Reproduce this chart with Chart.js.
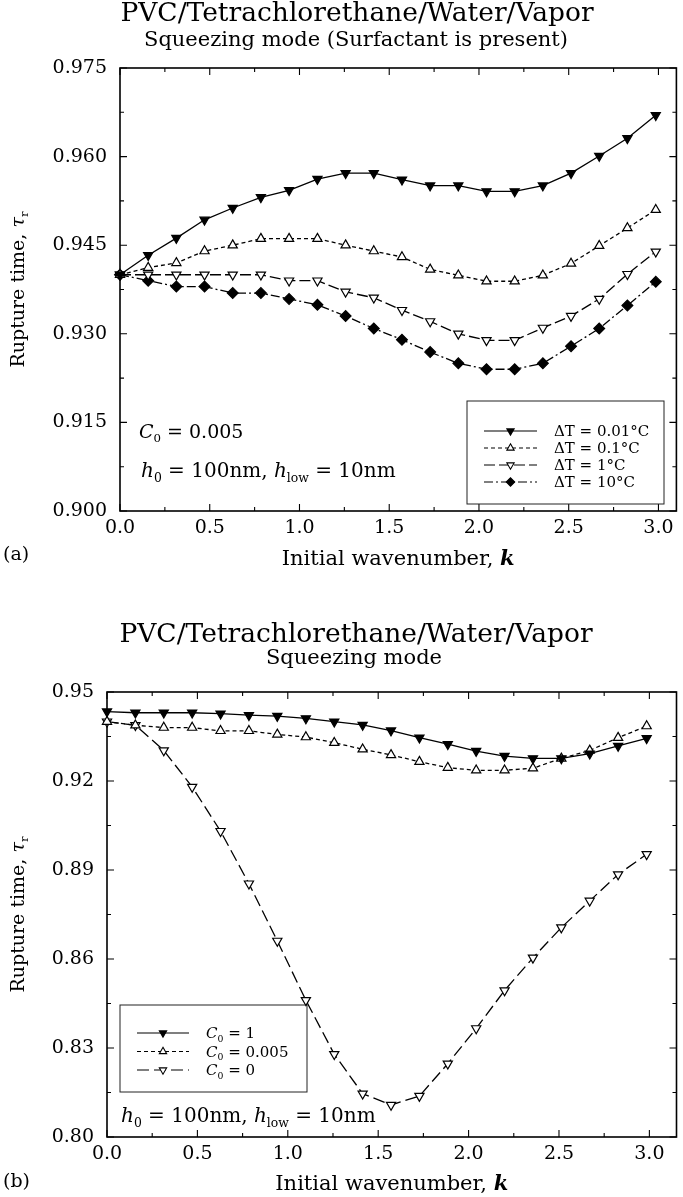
<!DOCTYPE html>
<html><head><meta charset="utf-8">
<script src="https://cdn.jsdelivr.net/npm/chart.js@4.4.1/dist/chart.umd.min.js"></script>
<style>
html,body{margin:0;padding:0;background:#fff;}
#wrapA{position:absolute;left:0;top:0;width:683px;height:600px;}
#wrapB{position:absolute;left:0;top:600px;width:683px;height:597px;}
</style></head><body>
<div id="wrapA"><canvas id="cA" width="683" height="600"></canvas></div>
<div id="wrapB"><canvas id="cB" width="683" height="597"></canvas></div>
<script>
// ---------- data ----------
const kValues = [0.000,0.157,0.314,0.471,0.628,0.785,0.942,1.100,1.257,1.414,1.571,1.728,1.885,2.042,2.199,2.356,2.513,2.670,2.827,2.985];

const tauA_dT001 = [0.9400,0.9433,0.9462,0.9493,0.9513,0.9531,0.9543,0.9562,0.9572,0.9572,0.9561,0.9551,0.9551,0.9541,0.9541,0.9551,0.9572,0.9601,0.9631,0.9670];
const tauA_dT01  = [0.9400,0.9412,0.9420,0.9440,0.9450,0.9461,0.9461,0.9461,0.9450,0.9440,0.9430,0.9409,0.9399,0.9389,0.9389,0.9399,0.9419,0.9449,0.9479,0.9510];
const tauA_dT1   = [0.9400,0.9400,0.9400,0.9400,0.9400,0.9400,0.9390,0.9390,0.9371,0.9361,0.9340,0.9321,0.9300,0.9289,0.9289,0.9310,0.9330,0.9359,0.9401,0.9439];
const tauA_dT10  = [0.9400,0.9390,0.9380,0.9380,0.9369,0.9369,0.9359,0.9349,0.9330,0.9309,0.9290,0.9269,0.9250,0.9240,0.9240,0.9250,0.9279,0.9309,0.9348,0.9388];

const tauB_C1    = [0.9434,0.9430,0.9430,0.9430,0.9427,0.9422,0.9419,0.9411,0.9400,0.9389,0.9370,0.9346,0.9324,0.9301,0.9284,0.9276,0.9276,0.9292,0.9318,0.9344];
const tauB_C0005 = [0.9400,0.9388,0.9380,0.9380,0.9369,0.9369,0.9357,0.9348,0.9329,0.9307,0.9288,0.9265,0.9245,0.9236,0.9236,0.9243,0.9276,0.9303,0.9346,0.9385];
const tauB_C0    = [0.9400,0.9388,0.9303,0.9180,0.9031,0.8854,0.8661,0.8461,0.8279,0.8146,0.8108,0.8138,0.8247,0.8366,0.8494,0.8604,0.8706,0.8796,0.8885,0.8953];

const labelsA = ['ΔT = 0.01°C','ΔT = 0.1°C','ΔT = 1°C','ΔT = 10°C'];
const labelsB = ['C₀ = 1','C₀ = 0.005','C₀ = 0'];

const xTickValues = [0.0,0.5,1.0,1.5,2.0,2.5,3.0];
const xTickLabels = ['0.0','0.5','1.0','1.5','2.0','2.5','3.0'];
const yTickValuesA = [0.900,0.915,0.930,0.945,0.960,0.975];
const yTickLabelsA = ['0.900','0.915','0.930','0.945','0.960','0.975'];
const yTickValuesB = [0.80,0.83,0.86,0.89,0.92,0.95];
const yTickLabelsB = ['0.80','0.83','0.86','0.89','0.92','0.95'];

// ---------- helpers ----------
const FONT = '"DejaVu Serif", serif';

function drawRich(ctx, segs, x, y, size, align) {
  let w = 0;
  const parts = segs.map(s => {
    const fs = s.sub ? size * 0.62 : size;
    const font = (s.it ? 'italic ' : '') + (s.b ? 'bold ' : '') + fs + 'px ' + FONT;
    ctx.font = font;
    const mw = ctx.measureText(s.t).width;
    w += mw;
    return {s, font, mw};
  });
  let cx = align === 'center' ? x - w / 2 : x;
  ctx.textBaseline = 'alphabetic';
  ctx.textAlign = 'left';
  const base = y + size * 0.36;
  for (const p of parts) {
    ctx.font = p.font;
    ctx.fillText(p.s.t, cx, p.s.sub ? base + size * 0.22 : base);
    cx += p.mw;
  }
}

function labelSegs(label) {
  if (label.startsWith('C₀')) return [{t:'C', it:1}, {t:'0', sub:1}, {t:label.slice(2)}];
  return [{t:label}];
}

function minorValues(majors, min, max) {
  const out = [];
  const step = majors[1] - majors[0];
  for (let i = 0; i < majors.length; i++) {
    const m = majors[i] + step / 2;
    if (m < max) out.push(m);
  }
  return out;
}

const decoPlugin = {
  id: 'deco',
  beforeDatasetsDraw(chart, args, o) {
    const ctx = chart.ctx, a = chart.chartArea;
    const xs = chart.scales.x, ys = chart.scales.y;
    ctx.save();
    ctx.strokeStyle = '#000';
    ctx.fillStyle = '#000';
    ctx.lineWidth = 1.6;
    ctx.strokeRect(a.left, a.top, a.right - a.left, a.bottom - a.top);
    ctx.lineWidth = 1.1;
    const xMaj = o.xMajor, yMaj = o.yMajor;
    const tickX = (v, len) => {
      const p = xs.getPixelForValue(v);
      ctx.beginPath();
      ctx.moveTo(p, a.bottom); ctx.lineTo(p, a.bottom - len);
      ctx.moveTo(p, a.top); ctx.lineTo(p, a.top + len);
      ctx.stroke();
    };
    const tickY = (v, len) => {
      const p = ys.getPixelForValue(v);
      ctx.beginPath();
      ctx.moveTo(a.left, p); ctx.lineTo(a.left + len, p);
      ctx.moveTo(a.right, p); ctx.lineTo(a.right - len, p);
      ctx.stroke();
    };
    xMaj.forEach(v => tickX(v, 7));
    minorValues(xMaj, xs.min, xs.max).forEach(v => tickX(v, 4));
    yMaj.forEach(v => tickY(v, 7));
    minorValues(yMaj, ys.min, ys.max).forEach(v => tickY(v, 4));

    const L = o.legend;
    ctx.fillStyle = '#fff';
    ctx.fillRect(L.x, L.y, L.w, L.h);
    ctx.strokeStyle = '#222';
    ctx.lineWidth = 1;
    ctx.strokeRect(L.x, L.y, L.w, L.h);
    chart.data.datasets.forEach((ds, i) => {
      const yy = L.row0 + i * L.dy;
      ctx.save();
      ctx.strokeStyle = '#000';
      ctx.lineWidth = 1.2;
      ctx.setLineDash(ds.legendDash || []);
      ctx.beginPath();
      ctx.moveTo(L.s0, yy); ctx.lineTo(L.s1, yy);
      ctx.stroke();
      ctx.setLineDash([]);
      ctx.fillStyle = ds.pointBackgroundColor;
      ctx.strokeStyle = '#000';
      ctx.lineWidth = 1.1;
      Chart.helpers.drawPoint(ctx, {pointStyle: ds.pointStyle, rotation: ds.pointRotation || 0, radius: 4.2, borderWidth: 1.1}, (L.s0 + L.s1) / 2, yy);
      ctx.restore();
      ctx.fillStyle = '#000';
      drawRich(ctx, labelSegs(ds.label), L.tx, yy, L.size, 'left');
    });
    ctx.restore();
  },
  afterDraw(chart, args, o) {
    const ctx = chart.ctx, a = chart.chartArea;
    ctx.save();
    ctx.fillStyle = '#000';
    o.titles.forEach(t => {
      ctx.font = t.size + 'px ' + FONT;
      ctx.textAlign = 'center';
      ctx.textBaseline = 'middle';
      ctx.fillText(t.text, t.x, t.y);
    });
    o.notes.forEach(n => drawRich(ctx, n.segs, n.x, n.y, n.size, 'left'));
    drawRich(ctx, [{t:'Initial wavenumber, '}, {t:'k', it:1, b:1}], (a.left + a.right) / 2, o.xTitleY, 21, 'center');
    ctx.font = '19px ' + FONT;
    ctx.textAlign = 'left';
    ctx.textBaseline = 'middle';
    ctx.fillText(o.tag, 3, o.tagY);
    ctx.save();
    ctx.translate(17, (a.top + a.bottom) / 2);
    ctx.rotate(-Math.PI / 2);
    drawRich(ctx, [{t:'Rupture time, '}, {t:'τ', it:1}, {t:'r', sub:1}], 0, 0, 19, 'center');
    ctx.restore();
    ctx.restore();
  }
};

function ds(label, data, style, rot, fill, dash) {
  return {
    label,
    data: kValues.map((k, i) => ({x: k, y: data[i]})),
    borderColor: '#000',
    borderWidth: 1.3,
    borderDash: dash,
    legendDash: dash,
    pointStyle: style,
    rotation: rot,
    pointRotation: rot,
    pointRadius: style === 'rectRot' ? 5.4 : 5.3,
    pointBackgroundColor: fill,
    pointBorderColor: '#000',
    pointBorderWidth: 1.2,
    fill: false,
    tension: 0,
    clip: false
  };
}

function makeChart(id, cfg) {
  return new Chart(document.getElementById(id), {
    type: 'line',
    data: {datasets: cfg.datasets},
    options: {
      responsive: false,
      animation: false,
      devicePixelRatio: 1,
      layout: {padding: cfg.padding},
      plugins: {
        legend: {display: false},
        tooltip: {enabled: false},
        deco: cfg.deco
      },
      scales: {
        x: {
          type: 'linear', min: 0, max: cfg.xMax,
          grid: {display: false, drawTicks: false},
          border: {display: false},
          afterFit: s => { s.height = cfg.xHeight; },
          afterBuildTicks: s => { s.ticks = xTickValues.map(v => ({value: v})); },
          ticks: {
            padding: 6, color: '#000', maxRotation: 0, autoSkip: false,
            font: {family: FONT, size: 19},
            callback: (v, i) => xTickLabels[i]
          }
        },
        y: {
          type: 'linear', min: cfg.yMin, max: cfg.yMax,
          grid: {display: false, drawTicks: false},
          border: {display: false},
          afterFit: s => { s.width = cfg.yWidth; },
          afterBuildTicks: s => { s.ticks = cfg.yVals.map(v => ({value: v})); },
          ticks: {
            padding: 13, color: '#000', autoSkip: false,
            font: {family: FONT, size: 19},
            callback: (v, i) => cfg.yLabs[i]
          }
        }
      }
    },
    plugins: [decoPlugin]
  });
}

const hNote = [{t:'h', it:1}, {t:'0', sub:1}, {t:' = 100nm, '}, {t:'h', it:1}, {t:'low', sub:1}, {t:' = 10nm'}];

makeChart('cA', {
  datasets: [
    ds(labelsA[0], tauA_dT001, 'triangle', 180, '#000', []),
    ds(labelsA[1], tauA_dT01, 'triangle', 0, '#fff', [4, 3]),
    ds(labelsA[2], tauA_dT1, 'triangle', 180, '#fff', [11, 4]),
    ds(labelsA[3], tauA_dT10, 'rectRot', 0, '#000', [9, 3, 2, 3])
  ],
  padding: {top: 68, left: 0, right: 1, bottom: 0},
  xMax: 3.1, xHeight: 89, yWidth: 120,
  yMin: 0.900, yMax: 0.975, yVals: yTickValuesA, yLabs: yTickLabelsA,
  deco: {
    xMajor: xTickValues, yMajor: yTickValuesA,
    titles: [
      {text: 'PVC/Tetrachlorethane/Water/Vapor', x: 357, y: 14, size: 26.5},
      {text: 'Squeezing mode (Surfactant is present)', x: 356, y: 41, size: 21}
    ],
    notes: [
      {segs: [{t:'C', it:1}, {t:'0', sub:1}, {t:' = 0.005'}], x: 139, y: 431, size: 19},
      {segs: hNote, x: 141, y: 470, size: 20}
    ],
    legend: {x: 467, y: 401, w: 197, h: 103, row0: 431, dy: 17, s0: 484, s1: 537, tx: 554, size: 15},
    xTitleY: 557, tag: '(a)', tagY: 555
  }
});

makeChart('cB', {
  datasets: [
    ds(labelsB[0], tauB_C1, 'triangle', 180, '#000', []),
    ds(labelsB[1], tauB_C0005, 'triangle', 0, '#fff', [4, 3]),
    ds(labelsB[2], tauB_C0, 'triangle', 180, '#fff', [12, 5])
  ],
  padding: {top: 92, left: 0, right: 6, bottom: 0},
  xMax: 3.15, xHeight: 60, yWidth: 107,
  yMin: 0.80, yMax: 0.95, yVals: yTickValuesB, yLabs: yTickLabelsB,
  deco: {
    xMajor: xTickValues, yMajor: yTickValuesB,
    titles: [
      {text: 'PVC/Tetrachlorethane/Water/Vapor', x: 356, y: 35, size: 26.5},
      {text: 'Squeezing mode', x: 354, y: 59, size: 21}
    ],
    notes: [
      {segs: hNote, x: 121, y: 515, size: 20}
    ],
    legend: {x: 120, y: 405, w: 187, h: 87, row0: 433, dy: 18.5, s0: 137, s1: 189, tx: 206, size: 15},
    xTitleY: 582, tag: '(b)', tagY: 582
  }
});
</script>
</body></html>
